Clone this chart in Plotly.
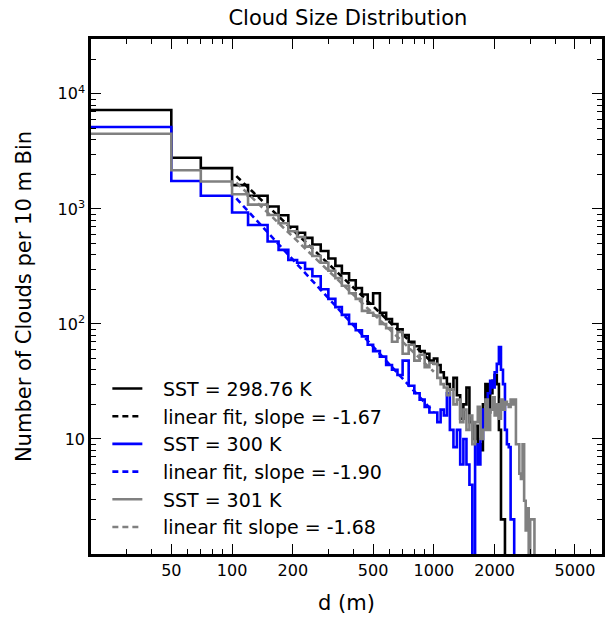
import plotly.graph_objects as go

# bin start positions (m); last entry closes the final bin
d_edges = [20, 50, 70, 100, 120, 150, 170, 190, 210, 230, 250, 275, 300, 325, 350,
           380, 410, 440, 470, 500, 540, 580, 620, 660, 700, 750, 800, 850, 900, 950,
           1000, 1040, 1080, 1120, 1160, 1200,
           1250, 1300, 1350, 1400, 1450, 1500, 1550, 1600, 1650, 1700,
           1750, 1800, 1850, 1900, 1950, 2000, 2050, 2100, 2150, 2200,
           2250, 2300, 2350, 2400, 2450, 2500, 2550, 2600, 2650, 2700,
           2750, 2800, 2850, 2900, 2950, 3000, 3050, 3100, 3150, 3200]

counts_29876 = [7250, 2780, 2260, 1610, 1300, 1050, 880, 700, 620, 560,
                490, 430, 370, 320, 275, 240, 205, 180, 150, 185,
                125, 110, 100, 90, 80, 70, 64, 58, 55, 48,
                50, 44, 38, 34, 30, 27,
                34, 24, 15, 20, 28, 14, 10, 13, 9, 8,
                20, 30, 17, 25, 32, 36, 30, 12, 2, 2,
                0, 0, 0, 0, 0, 0, 0, 0, 0, 0,
                0, 0, 0, 0, 0, 0, 0, 0, 0, 0]

counts_300 = [5150, 1750, 1300, 930, 725, 520, 440, 360, 340, 300,
              260, 200, 165, 140, 120, 100, 88, 78, 66, 58,
              52, 44, 40, 36, 48, 29, 25, 22, 19, 17,
              17, 14, 18, 16, 25, 12,
              8.5, 12, 6, 10, 6, 4, 0, 9, 6, 10,
              18, 13, 25, 32, 28, 38, 45, 63, 40, 30,
              12, 9, 8.5, 2, 2, 0, 0, 0, 0, 0,
              0, 0, 0, 0, 0, 0, 0, 0, 0, 0]

counts_301 = [4500, 2170, 1730, 1340, 1090, 885, 750, 640, 570, 470,
              390, 340, 290, 250, 215, 185, 165, 130, 125, 118,
              100, 92, 70, 85, 55, 66, 48, 54, 42, 46,
              45, 34, 30, 28, 24, 27,
              20, 22, 14, 18, 12, 16, 9, 14, 19, 10,
              12, 22, 12, 18, 23, 16, 20, 15, 22, 18,
              21, 20, 19, 22, 20, 22, 9, 9, 5, 4.5,
              9, 2.9, 1.6, 2.5, 0, 2, 2, 2, 0, 0]

fit_d = [105, 1000]
fit_29876 = [1925, 44.7]
fit_300 = [1233, 17.0]
fit_301 = [1693, 38.4]

labels = ["SST = 298.76 K", "linear fit, slope = -1.67", "SST = 300 K",
          "linear fit, slope = -1.90", "SST = 301 K", "linear fit slope = -1.68"]

x_major = [50, 100, 200, 500, 1000, 2000, 5000]
x_minor = [30, 40, 60, 70, 80, 90, 300, 400, 600, 700, 800, 900, 3000, 4000, 6000]
y_major = [10, 100, 1000, 10000]
y_major_text = ["10", "10<sup>2</sup>", "10<sup>3</sup>", "10<sup>4</sup>"]
y_minor = [m * 10 ** k for k in range(0, 5) for m in range(2, 10)]

FLOOR = 0.05
def floor0(v):
    return [c if c > 0 else FLOOR for c in v]

BLACK, BLUE, GRAY = "#000000", "#0000ff", "#808080"
LW = 2.6
DASH = "6px,4px"
PAD = "\u2002\u00a0"  # gap between legend sample and its text

fig = go.Figure()
series = [
    (counts_29876, fit_29876, BLACK, labels[0], labels[1]),
    (counts_300, fit_300, BLUE, labels[2], labels[3]),
    (counts_301, fit_301, GRAY, labels[4], labels[5]),
]
for counts, fit, col, lab, flab in series:
    fig.add_trace(go.Scatter(x=d_edges, y=floor0(counts), mode="lines",
                             line=dict(color=col, width=LW, shape="hv"), name=PAD + lab))
    fig.add_trace(go.Scatter(x=fit_d, y=fit, mode="lines",
                             line=dict(color=col, width=LW, dash=DASH), name=PAD + flab))

FONT = "DejaVu Sans"
fig.update_layout(
    width=605, height=621,
    margin=dict(l=91, r=0, t=39, b=67),
    paper_bgcolor="white", plot_bgcolor="white",
    font=dict(family=FONT, color="black", size=16),
    title=dict(text="Cloud Size Distribution", x=0.575, xanchor="center",
               y=0.972, yanchor="middle", font=dict(size=21)),
    legend=dict(x=0.032, y=0.358, xanchor="left", yanchor="top",
                bgcolor="rgba(0,0,0,0)", borderwidth=0, itemwidth=30,
                font=dict(size=19), tracegroupgap=0),
    showlegend=True,
)
axis_common = dict(type="log", showgrid=False, zeroline=False, showline=True,
                   linecolor="black", linewidth=2.5, mirror="allticks",
                   ticks="inside", ticklen=10, tickwidth=1.3, tickcolor="black",
                   tickfont=dict(size=16))
fig.update_xaxes(**axis_common, range=[1.30103, 3.833],
                 tickvals=x_major, ticktext=[str(v) for v in x_major],
                 minor=dict(tickvals=x_minor, ticks="inside", ticklen=5,
                            tickwidth=1.3, tickcolor="black"),
                 title=dict(text="d (m)", font=dict(size=21), standoff=17))
fig.update_yaxes(**axis_common, range=[0, 4.477],
                 tickvals=y_major, ticktext=y_major_text,
                 minor=dict(tickvals=y_minor, ticks="inside", ticklen=5,
                            tickwidth=1.3, tickcolor="black"),
                 title=dict(text="Number of Clouds per 10 m Bin", font=dict(size=21), standoff=21))

fig.write_html("out.html")
